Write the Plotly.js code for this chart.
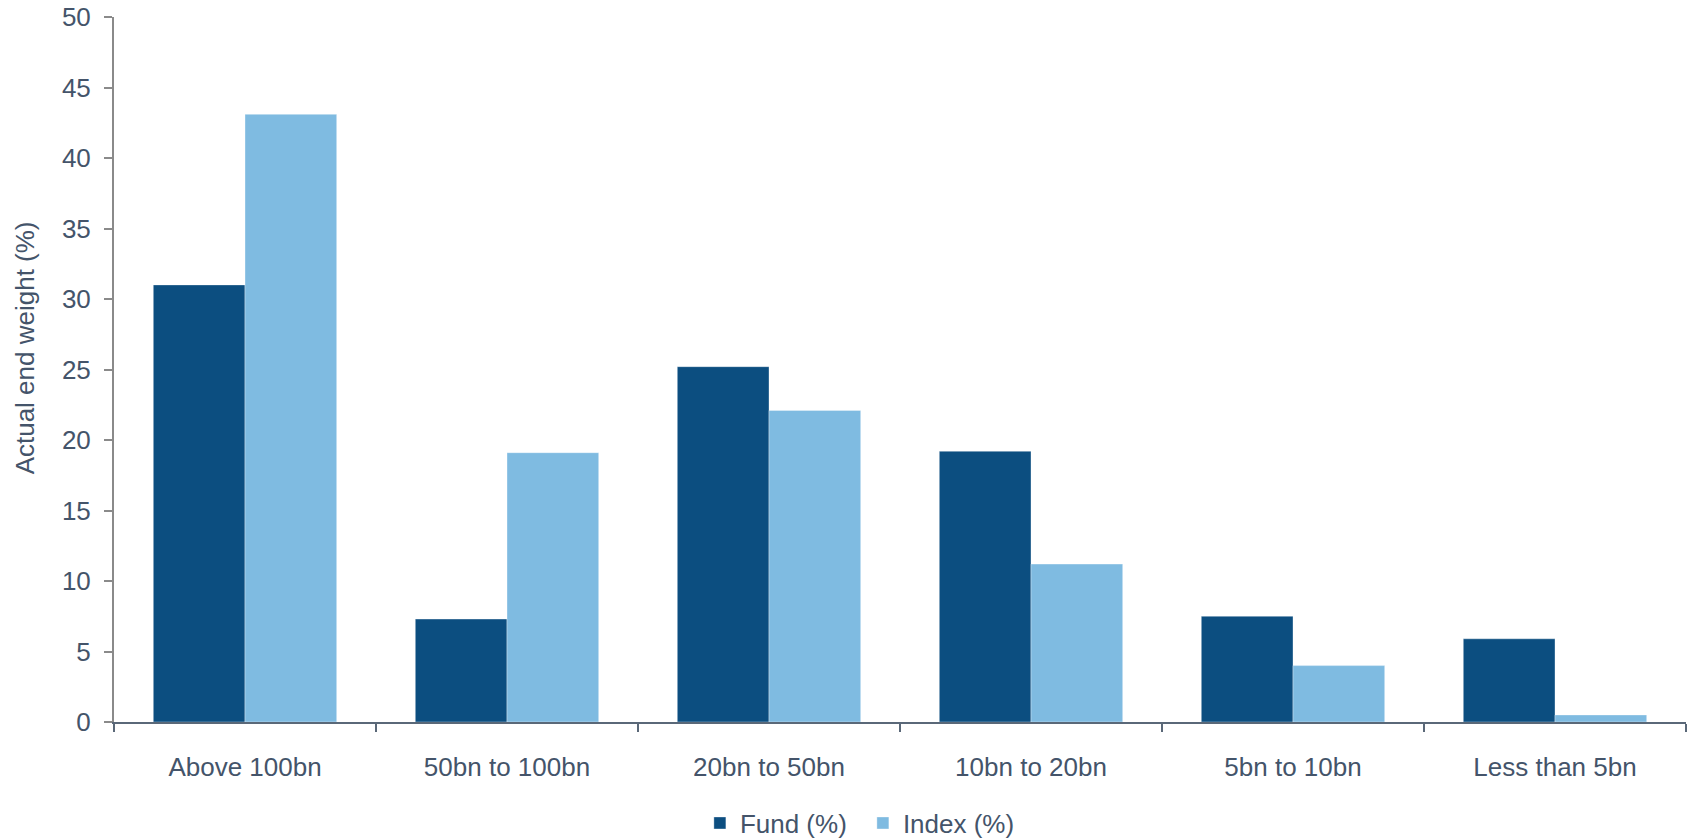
<!DOCTYPE html>
<html>
<head>
<meta charset="utf-8">
<script src="https://cdn.plot.ly/plotly-3.0.1.min.js"></script>
<style>
html, body { margin: 0; padding: 0; background: #ffffff; }
#chart { width: 1690px; height: 839px; }
</style>
</head>
<body>
<div id="chart"></div>
<script>
var categories = ["Above 100bn", "50bn to 100bn", "20bn to 50bn", "10bn to 20bn", "5bn to 10bn", "Less than 5bn"];
var fundValues = [31.0, 7.3, 25.2, 19.2, 7.5, 5.9];
var indexValues = [43.1, 19.1, 22.1, 11.2, 4.0, 0.5];
var yTickValues = [0, 5, 10, 15, 20, 25, 30, 35, 40, 45, 50];
var yTitle = "Actual end weight (%)";

var textColor = "#44546a";
var fontFamily = "Arial, 'Liberation Sans', Helvetica, sans-serif";

var traces = [
  {
    type: "bar",
    name: "Fund (%)",
    x: categories,
    y: fundValues,
    marker: { color: "#0c4e80", line: { color: "rgba(255,255,255,0.35)", width: 1 } },
    hoverinfo: "x+y+name"
  },
  {
    type: "bar",
    name: "Index (%)",
    x: categories,
    y: indexValues,
    marker: { color: "#7fbbe1", line: { color: "rgba(255,255,255,0.35)", width: 1 } },
    hoverinfo: "x+y+name"
  }
];

var layout = {
  width: 1690,
  height: 839,
  paper_bgcolor: "#ffffff",
  plot_bgcolor: "#ffffff",
  margin: { l: 114, r: 4, t: 17, b: 117, pad: 0 },
  font: { family: fontFamily, size: 26, color: textColor },
  barmode: "group",
  bargap: 0.3,
  bargroupgap: 0,
  showlegend: true,
  legend: {
    orientation: "h",
    x: 0.3727,
    xanchor: "left",
    yref: "container",
    y: 0.019,
    yanchor: "middle",
    font: { family: fontFamily, size: 26, color: textColor },
    itemwidth: 30,
    entrywidth: 118,
    entrywidthmode: "pixels",
    bgcolor: "rgba(0,0,0,0)"
  },
  annotations: [
    {
      text: yTitle,
      xref: "paper",
      yref: "paper",
      x: -0.0566,
      y: 0.530,
      xanchor: "center",
      yanchor: "middle",
      textangle: -90,
      showarrow: false,
      font: { family: fontFamily, size: 26, color: textColor }
    }
  ],
  xaxis: {
    type: "category",
    showgrid: false,
    zeroline: false,
    showline: true,
    linecolor: "#5a6878",
    linewidth: 2,
    ticks: "outside",
    tickson: "boundaries",
    ticklen: 8,
    tickwidth: 2,
    tickcolor: "#5a6878",
    ticklabelstandoff: 21,
    tickfont: { family: fontFamily, size: 26, color: textColor },
    automargin: false
  },
  yaxis: {
    range: [0, 50],
    tickvals: yTickValues,
    ticktext: yTickValues.map(String),
    showgrid: false,
    zeroline: false,
    showline: true,
    linecolor: "#8a8a8a",
    linewidth: 2,
    ticks: "outside",
    ticklen: 8,
    tickwidth: 2,
    tickcolor: "#8a8a8a",
    ticklabelstandoff: 8,
    tickfont: { family: fontFamily, size: 26, color: textColor },
    automargin: false
  }
};

Plotly.newPlot("chart", traces, layout, { displayModeBar: false, staticPlot: true });
</script>
</body>
</html>
